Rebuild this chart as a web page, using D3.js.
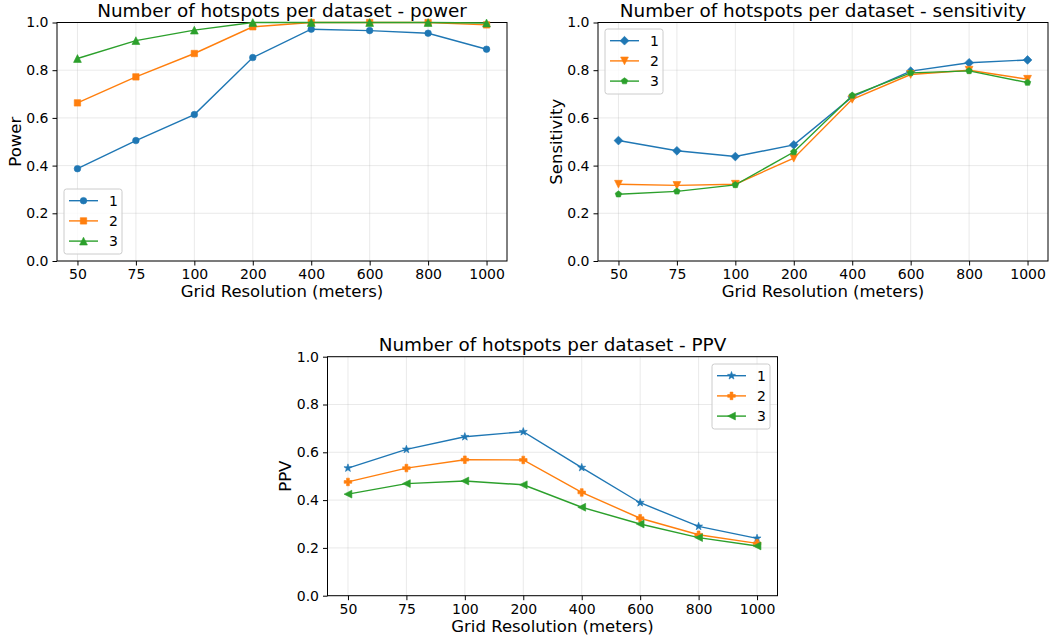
<!DOCTYPE html>
<html>
<head>
<meta charset="utf-8">
<script src="https://cdn.jsdelivr.net/npm/d3@7"></script>
<style>
  body { margin: 0; background: #fff; }
  text { font-family: "DejaVu Sans", sans-serif; fill: #000; }
</style>
</head>
<body>
<svg id="chart" width="1051" height="642"></svg>
<script>
// grid resolutions (x categories)
var resolutions = ["50", "75", "100", "200", "400", "600", "800", "1000"];
var seriesNames = ["1", "2", "3"];
var yTicks = [0, 0.2, 0.4, 0.6, 0.8, 1.0];

// power
var power1 = [0.387, 0.505, 0.614, 0.853, 0.972, 0.966, 0.955, 0.888];
var power2 = [0.663, 0.772, 0.870, 0.982, 1.0, 1.0, 1.0, 0.990];
var power3 = [0.849, 0.924, 0.968, 1.0, 1.0, 1.0, 1.0, 0.998];

// sensitivity
var sens1 = [0.505, 0.462, 0.438, 0.487, 0.688, 0.796, 0.831, 0.843];
var sens2 = [0.322, 0.317, 0.322, 0.431, 0.678, 0.782, 0.800, 0.762];
var sens3 = [0.280, 0.292, 0.319, 0.457, 0.694, 0.789, 0.797, 0.748];

// PPV
var ppv1 = [0.534, 0.612, 0.665, 0.686, 0.536, 0.389, 0.290, 0.240];
var ppv2 = [0.476, 0.534, 0.569, 0.568, 0.432, 0.324, 0.255, 0.219];
var ppv3 = [0.425, 0.469, 0.480, 0.464, 0.370, 0.300, 0.243, 0.208];

var colors = ["#1f77b4", "#ff7f0e", "#2ca02c"];

// marker paths centred on 0,0
function markerPath(type) {
    var r, p = d3.path();
    switch (type) {
    case "o":
        r = 3.3; p.arc(0, 0, r, 0, 2 * Math.PI); break;
    case "s":
        r = 3.2; p.rect(-r, -r, 2 * r, 2 * r); break;
    case "^":
        r = 3.9; p.moveTo(0, -r); p.lineTo(r, r); p.lineTo(-r, r); p.closePath(); break;
    case "v":
        r = 3.9; p.moveTo(0, r); p.lineTo(r, -r); p.lineTo(-r, -r); p.closePath(); break;
    case "<":
        r = 3.9; p.moveTo(-r, 0); p.lineTo(r, -r); p.lineTo(r, r); p.closePath(); break;
    case "D":
        r = 4.4; p.moveTo(0, -r); p.lineTo(r, 0); p.lineTo(0, r); p.lineTo(-r, 0); p.closePath(); break;
    case "p":
        r = 3.4;
        for (var i = 0; i < 5; i++) {
            var a = -Math.PI / 2 + i * 2 * Math.PI / 5;
            if (i == 0) p.moveTo(r * Math.cos(a), r * Math.sin(a));
            else p.lineTo(r * Math.cos(a), r * Math.sin(a));
        }
        p.closePath(); break;
    case "*":
        r = 4.2;
        for (var i = 0; i < 10; i++) {
            var a = -Math.PI / 2 + i * Math.PI / 5;
            var rr = i % 2 == 0 ? r : r * 0.4;
            if (i == 0) p.moveTo(rr * Math.cos(a), rr * Math.sin(a));
            else p.lineTo(rr * Math.cos(a), rr * Math.sin(a));
        }
        p.closePath(); break;
    case "P":
        r = 3.8; var t = 1.4;
        p.moveTo(-t, -r); p.lineTo(t, -r); p.lineTo(t, -t); p.lineTo(r, -t); p.lineTo(r, t);
        p.lineTo(t, t); p.lineTo(t, r); p.lineTo(-t, r); p.lineTo(-t, t); p.lineTo(-r, t);
        p.lineTo(-r, -t); p.lineTo(-t, -t); p.closePath(); break;
    }
    return p.toString();
}

var svg = d3.select("#chart");

function panel(cfg) {
    var w = cfg.width, h = cfg.height;
    var g = svg.append("g").attr("transform", "translate(" + cfg.left + "," + cfg.top + ")");

    var xScale = d3.scalePoint().domain(resolutions).range([0, w]).padding(0.35);
    var yScale = d3.scaleLinear().domain([0, 1]).range([h, 0]);

    // grid
    g.append("g").selectAll("line").data(resolutions).enter().append("line")
        .attr("x1", d => xScale(d)).attr("x2", d => xScale(d))
        .attr("y1", 0).attr("y2", h)
        .attr("stroke", "#b0b0b0").attr("stroke-opacity", 0.3).attr("stroke-width", 0.9);
    g.append("g").selectAll("line").data(yTicks).enter().append("line")
        .attr("x1", 0).attr("x2", w)
        .attr("y1", d => yScale(d)).attr("y2", d => yScale(d))
        .attr("stroke", "#b0b0b0").attr("stroke-opacity", 0.3).attr("stroke-width", 0.9);

    // axes
    var xAxis = d3.axisBottom(xScale).tickSizeOuter(0).tickSize(4.5).tickPadding(4);
    var yAxis = d3.axisLeft(yScale).tickValues(yTicks).tickFormat(d3.format(".1f"))
        .tickSizeOuter(0).tickSize(4.5).tickPadding(4);
    var gx = g.append("g").attr("transform", "translate(0," + h + ")").call(xAxis);
    var gy = g.append("g").call(yAxis);
    [gx, gy].forEach(function(a) {
        a.select(".domain").remove();
        a.selectAll("line").attr("stroke", "#000").attr("stroke-width", 1);
        a.selectAll("text").style("font-size", "14px").style("font-family", "DejaVu Sans");
    });

    // frame
    g.append("rect").attr("width", w).attr("height", h)
        .attr("fill", "none").attr("stroke", "#000").attr("stroke-width", 1);

    // lines + markers
    var line = d3.line()
        .x((d, i) => xScale(resolutions[i]))
        .y(d => yScale(d));
    cfg.series.forEach(function(vals, k) {
        var sg = g.append("g");
        sg.append("path").datum(vals).attr("d", line)
            .attr("fill", "none").attr("stroke", colors[k]).attr("stroke-width", 1.4);
        sg.selectAll("path.m").data(vals).enter().append("path").attr("class", "m")
            .attr("d", markerPath(cfg.markers[k]))
            .attr("transform", (d, i) => "translate(" + xScale(resolutions[i]) + "," + yScale(d) + ")")
            .attr("fill", colors[k]).attr("stroke", colors[k]).attr("stroke-width", 0.6);
    });

    // title + labels
    g.append("text").attr("x", w / 2).attr("y", -6).attr("text-anchor", "middle")
        .style("font-size", "18.4px").text(cfg.title);
    g.append("text").attr("x", w / 2).attr("y", h + 36).attr("text-anchor", "middle")
        .style("font-size", "16.5px").text("Grid Resolution (meters)");
    g.append("text").attr("transform", "translate(" + cfg.ylabelX + "," + (h / 2) + ") rotate(-90)")
        .attr("text-anchor", "middle").attr("dy", "0.35em")
        .style("font-size", "16.5px").text(cfg.ylabel);

    // legend
    var lg = g.append("g").attr("transform", "translate(" + cfg.legend[0] + "," + cfg.legend[1] + ")");
    lg.append("rect").attr("width", 58).attr("height", 65).attr("rx", 2.5)
        .attr("fill", "#fff").attr("fill-opacity", 0.8).attr("stroke", "#cccccc").attr("stroke-width", 1);
    seriesNames.forEach(function(name, k) {
        var yy = 11.7 + k * 20.2;
        lg.append("line").attr("x1", 5).attr("x2", 34).attr("y1", yy).attr("y2", yy)
            .attr("stroke", colors[k]).attr("stroke-width", 1.4);
        lg.append("path").attr("d", markerPath(cfg.markers[k]))
            .attr("transform", "translate(19.5," + yy + ")")
            .attr("fill", colors[k]).attr("stroke", colors[k]).attr("stroke-width", 0.6);
        lg.append("text").attr("x", 45).attr("y", yy).attr("dy", "0.35em")
            .style("font-size", "14px").text(name);
    });
}

panel({
    left: 57, top: 22.5, width: 450, height: 238.5,
    title: "Number of hotspots per dataset - power", ylabel: "Power", ylabelX: -42,
    series: [power1, power2, power3], markers: ["o", "s", "^"],
    legend: [7, 166.5]
});
panel({
    left: 598, top: 22.5, width: 450, height: 238.5,
    title: "Number of hotspots per dataset - sensitivity", ylabel: "Sensitivity", ylabelX: -42,
    series: [sens1, sens2, sens3], markers: ["D", "v", "p"],
    legend: [7, 6.5]
});
panel({
    left: 327.5, top: 356.7, width: 450, height: 239,
    title: "Number of hotspots per dataset - PPV", ylabel: "PPV", ylabelX: -42,
    series: [ppv1, ppv2, ppv3], markers: ["*", "P", "<"],
    legend: [384.5, 7.3]
});
</script>
</body>
</html>
